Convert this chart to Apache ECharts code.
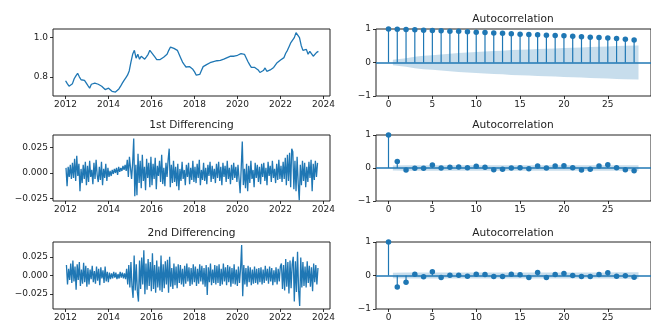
<!DOCTYPE html>
<html>
<head>
<meta charset="utf-8">
<script src="https://cdn.jsdelivr.net/npm/echarts@6.0.0/dist/echarts.min.js"></script>
<style>
  html, body { margin: 0; padding: 0; background: #fff; }
  #chart { width: 651px; height: 322px; }
</style>
</head>
<body>
<div id="chart"></div>
<script>
// tick labels
var yearTicks = [2012, 2014, 2016, 2018, 2020, 2022, 2024];
var lagTicks = [0, 5, 10, 15, 20, 25];

// original series, one value every 0.08 year from 2012.0
var levelStart = 2012.0;
var levelStep = 0.08;
var levelValues = [
  0.78,0.765,0.752,0.758,0.765,0.79,0.805,0.818,0.8,0.785,
  0.776,0.782,0.775,0.755,0.742,0.762,0.772,0.768,0.772,0.762,
  0.757,0.752,0.745,0.735,0.738,0.742,0.732,0.726,0.724,0.722,
  0.728,0.738,0.752,0.768,0.782,0.795,0.808,0.83,0.875,0.915,
  0.935,0.895,0.915,0.89,0.905,0.915,0.89,0.902,0.915,0.935,
  0.925,0.912,0.9,0.888,0.893,0.888,0.898,0.9,0.902,0.915,
  0.935,0.952,0.958,0.945,0.94,0.935,0.915,0.895,0.875,0.862,
  0.85,0.845,0.852,0.85,0.838,0.825,0.808,0.806,0.812,0.832,
  0.852,0.858,0.862,0.866,0.872,0.868,0.878,0.876,0.882,0.88,
  0.884,0.886,0.89,0.893,0.898,0.902,0.906,0.91,0.905,0.9,
  0.91,0.915,0.918,0.922,0.915,0.905,0.878,0.862,0.848,0.845,
  0.848,0.84,0.835,0.822,0.826,0.832,0.845,0.828,0.822,0.835,
  0.842,0.848,0.852,0.872,0.88,0.886,0.885,0.898,0.92,0.935,
  0.955,0.975,0.985,1.0,1.025,1.02,1.0,0.96,0.935,0.93,
  0.94,0.915,0.93,0.922,0.905,0.915,0.925,0.93
];

// differenced series, in thousandths, one value every 0.05 year
var diffStep = 0.05;
var diff1Start = 2012.02;
var diff1Milli = [
  5,-13,6,-4,8,-6,10,-5,14,-8,17,-3,9,-18,4,-10,8,-6,11,-12,
  7,-9,12,-4,3,-11,10,-6,13,-2,-9,6,-7,11,-12,4,-5,9,-8,5,
  -4,2,-3,3,-1,4,0,5,-2,6,1,5,2,7,3,8,2,13,-4,16,
  5,-6,10,34,-23,8,-22,19,-10,12,-15,18,-8,6,-17,14,-5,10,-14,16,
  -12,9,-6,15,-16,7,-3,12,-9,18,-11,5,-13,10,-4,13,24,-14,8,-10,
  12,-9,6,-13,9,-17,4,-8,11,-6,3,-12,8,-4,10,-11,5,-7,12,-9,
  6,-10,9,-5,13,-12,3,-7,10,-8,5,-11,8,-3,11,-9,7,-6,4,-10,
  9,-5,11,-8,6,-12,10,-4,7,-9,12,-6,5,-11,8,-7,10,-5,6,-9,
  8,-6,-20,5,31,-12,4,-15,9,-18,7,-10,12,-6,3,-14,10,-5,8,-9,
  6,-11,9,-4,10,-8,5,-12,11,-3,7,-9,12,-5,4,-10,9,-7,13,-6,
  7,-9,11,-6,15,-12,18,-8,20,-14,24,21,-16,12,-18,16,-10,-27,8,-12,
  12,-8,10,-14,6,-9,11,-5,13,-18,9,-7,12,-4,10
];
var diff2Start = 2012.04;
var diff2Milli = [
  14,-12,9,-6,16,-10,20,-8,12,-19,15,-6,18,-14,8,-11,17,-9,13,-15,
  10,-12,8,-5,13,-9,6,-11,12,-7,9,-13,11,-4,7,-10,12,-8,5,-9,
  4,-5,3,-4,5,-3,4,-5,2,-4,5,-3,4,-4,3,-5,9,-12,14,-16,
  18,-15,-30,27,-20,15,-22,-35,20,-18,24,-12,34,-25,16,-19,22,-14,18,-21,
  30,-18,14,-23,20,-16,12,-20,27,-22,15,-17,19,-12,21,-23,25,-15,10,-18,
  16,-13,12,-17,15,-10,14,-12,9,-15,13,-11,16,-8,11,-14,10,-12,15,-9,
  12,-14,9,-11,15,-8,13,-12,10,-15,14,-26,11,-9,16,-13,8,-10,14,-12,
  13,-10,15,-14,9,-12,16,-8,11,-13,14,-9,12,-15,10,-11,15,-12,8,-14,
  12,-10,9,41,-28,14,-12,10,-15,13,-9,11,-13,8,-11,12,-10,9,-12,10,
  -9,11,-12,8,-10,13,-7,9,-11,12,-8,10,-13,7,-9,11,-12,9,-8,12,
  16,-18,14,-20,22,-15,18,-24,20,-17,15,25,-35,19,-22,32,-20,-41,24,-16,
  18,-14,12,-16,19,-10,13,-15,11,-21,16,-9,14,-12,10
];

// autocorrelations, lags 0..28
var acfLevel = [1.0,0.99,0.985,0.975,0.965,0.955,0.945,0.935,0.93,0.92,0.905,0.895,0.88,0.87,0.86,
  0.845,0.835,0.825,0.815,0.805,0.795,0.78,0.77,0.755,0.745,0.73,0.715,0.695,0.675];
var acfDiff1 = [1.0,0.20,-0.06,-0.01,-0.01,0.09,0.0,0.02,0.03,0.01,0.05,0.02,-0.05,-0.04,0.0,
  0.01,-0.02,0.06,0.0,0.06,0.07,0.01,-0.06,-0.04,0.06,0.10,0.01,-0.05,-0.08];
var acfDiff2 = [1.0,-0.34,-0.20,0.04,-0.04,0.11,-0.06,0.01,0.01,-0.02,0.04,0.03,-0.03,-0.03,0.04,
  0.02,-0.06,0.09,-0.06,0.03,0.06,0.0,-0.03,-0.03,0.03,0.08,-0.02,-0.01,-0.05];

// confidence band half widths, lags 1..28
var confLevel = [0.08,0.13,0.17,0.20,0.22,0.24,0.26,0.28,0.30,0.31,0.33,0.34,0.35,0.37,
  0.38,0.39,0.40,0.41,0.42,0.43,0.44,0.45,0.46,0.47,0.48,0.49,0.50,0.51];
var confDiff1 = [0.079,0.082,0.082,0.082,0.082,0.083,0.083,0.083,0.083,0.083,0.083,0.083,0.083,0.083,
  0.083,0.083,0.083,0.084,0.084,0.084,0.084,0.084,0.084,0.084,0.085,0.085,0.085,0.085];
var confDiff2 = [0.079,0.088,0.091,0.091,0.091,0.092,0.092,0.092,0.092,0.092,0.092,0.092,0.092,0.092,
  0.092,0.092,0.093,0.093,0.093,0.093,0.093,0.093,0.093,0.093,0.093,0.094,0.094,0.094];

var C0 = '#1f77b4';
var FONT = 'DejaVu Sans';

function minus(s) { return s.replace('-', '\u2212'); }

function axis(gridIndex, min, max, ticks, fmt, margin) {
  return {
    type: 'value', gridIndex: gridIndex, min: min, max: max,
    splitLine: { show: false },
    axisLine: { show: false, onZero: false },
    axisTick: { show: true, length: 3, customValues: ticks, lineStyle: { color: '#000', width: 0.8 } },
    axisLabel: { customValues: ticks, formatter: fmt, margin: margin, color: '#222',
      fontFamily: FONT, fontSize: 9 }
  };
}

var cols = [{ left: 53, width: 277 }, { left: 376, width: 276 }];
var rows = [{ top: 29, height: 67 }, { top: 135, height: 66 }, { top: 242, height: 67 }];
var grids = [];
cols.forEach(function (c) {
  rows.forEach(function (r) {
    grids.push({ left: c.left, top: r.top, width: c.width, height: r.height, show: true,
      borderColor: '#222', borderWidth: 1, backgroundColor: 'transparent' });
  });
});

var yearFmt = function (v) { return String(v); };
var xAxes = [
  axis(0, 2011.415, 2024.3, yearTicks, yearFmt, 4),
  axis(1, 2011.415, 2024.3, yearTicks, yearFmt, 4),
  axis(2, 2011.415, 2024.3, yearTicks, yearFmt, 4)
];
var yAxes = [
  axis(0, 0.702, 1.044, [0.8, 1.0], function (v) { return v.toFixed(1); }, 5),
  axis(1, -0.0277, 0.0375, [-0.025, 0, 0.025], function (v) { return minus(v.toFixed(3)); }, 5),
  axis(2, -0.045, 0.045, [-0.025, 0, 0.025], function (v) { return minus(v.toFixed(3)); }, 5)
];
[3, 4, 5].forEach(function (g) {
  xAxes.push(axis(g, -1.425, 29.925, lagTicks, function (v) { return String(v); }, 4));
  yAxes.push(axis(g, -1, 1, [-1, 0, 1], function (v) { return minus(String(v)); }, 5));
});

function lineSeries(idx, start, step, values, scale) {
  return {
    type: 'line', xAxisIndex: idx, yAxisIndex: idx, showSymbol: false, animation: false,
    lineStyle: { color: C0, width: 1.3 },
    data: values.map(function (v, i) { return [start + i * step, v * scale]; })
  };
}

function acfSeries(idx, acf, conf) {
  var bandX = conf.map(function (w, k) { return k + 1; });
  bandX[0] -= 0.5;
  bandX[bandX.length - 1] += 0.5;
  var band = function (sign) {
    return {
      type: 'line', xAxisIndex: idx, yAxisIndex: idx, showSymbol: false, animation: false,
      lineStyle: { width: 0 }, areaStyle: { color: C0, opacity: 0.25, origin: 0 },
      data: conf.map(function (w, k) { return [bandX[k], sign * w]; })
    };
  };
  var pts = acf.map(function (v, k) { return [k, v]; });
  return [
    band(1), band(-1),
    {
      type: 'custom', xAxisIndex: idx, yAxisIndex: idx, animation: false, data: pts,
      renderItem: function (params, api) {
        var p0 = api.coord([api.value(0), 0]);
        var p1 = api.coord([api.value(0), api.value(1)]);
        return { type: 'line', shape: { x1: p0[0], y1: p0[1], x2: p1[0], y2: p1[1] },
          style: { stroke: C0, lineWidth: 1.2 } };
      }
    },
    {
      type: 'scatter', xAxisIndex: idx, yAxisIndex: idx, animation: false, data: pts,
      symbolSize: 5.5, itemStyle: { color: C0, opacity: 1 },
      markLine: { silent: true, symbol: 'none', animation: false, label: { show: false },
        lineStyle: { color: C0, width: 1.5, type: 'solid' }, data: [{ yAxis: 0 }] }
    }
  ];
}

var series = [
  lineSeries(0, levelStart, levelStep, levelValues, 1),
  lineSeries(1, diff1Start, diffStep, diff1Milli, 0.001),
  lineSeries(2, diff2Start, diffStep, diff2Milli, 0.001)
].concat(acfSeries(3, acfLevel, confLevel))
 .concat(acfSeries(4, acfDiff1, confDiff1))
 .concat(acfSeries(5, acfDiff2, confDiff2));

function title(text, x, y) {
  return { type: 'text', x: x, y: y, silent: true,
    style: { text: text, fill: '#222', font: '10.6px "DejaVu Sans"', align: 'center', verticalAlign: 'middle' } };
}

var chart = echarts.init(document.getElementById('chart'), null, { renderer: 'canvas' });
chart.setOption({
  animation: false,
  backgroundColor: '#fff',
  grid: grids,
  xAxis: xAxes,
  yAxis: yAxes,
  series: series,
  graphic: [
    title('Autocorrelation', 513, 19),
    title('1st Differencing', 191.5, 125.5),
    title('Autocorrelation', 513, 125.5),
    title('2nd Differencing', 191.5, 233),
    title('Autocorrelation', 513, 233)
  ]
});
</script>
</body>
</html>
